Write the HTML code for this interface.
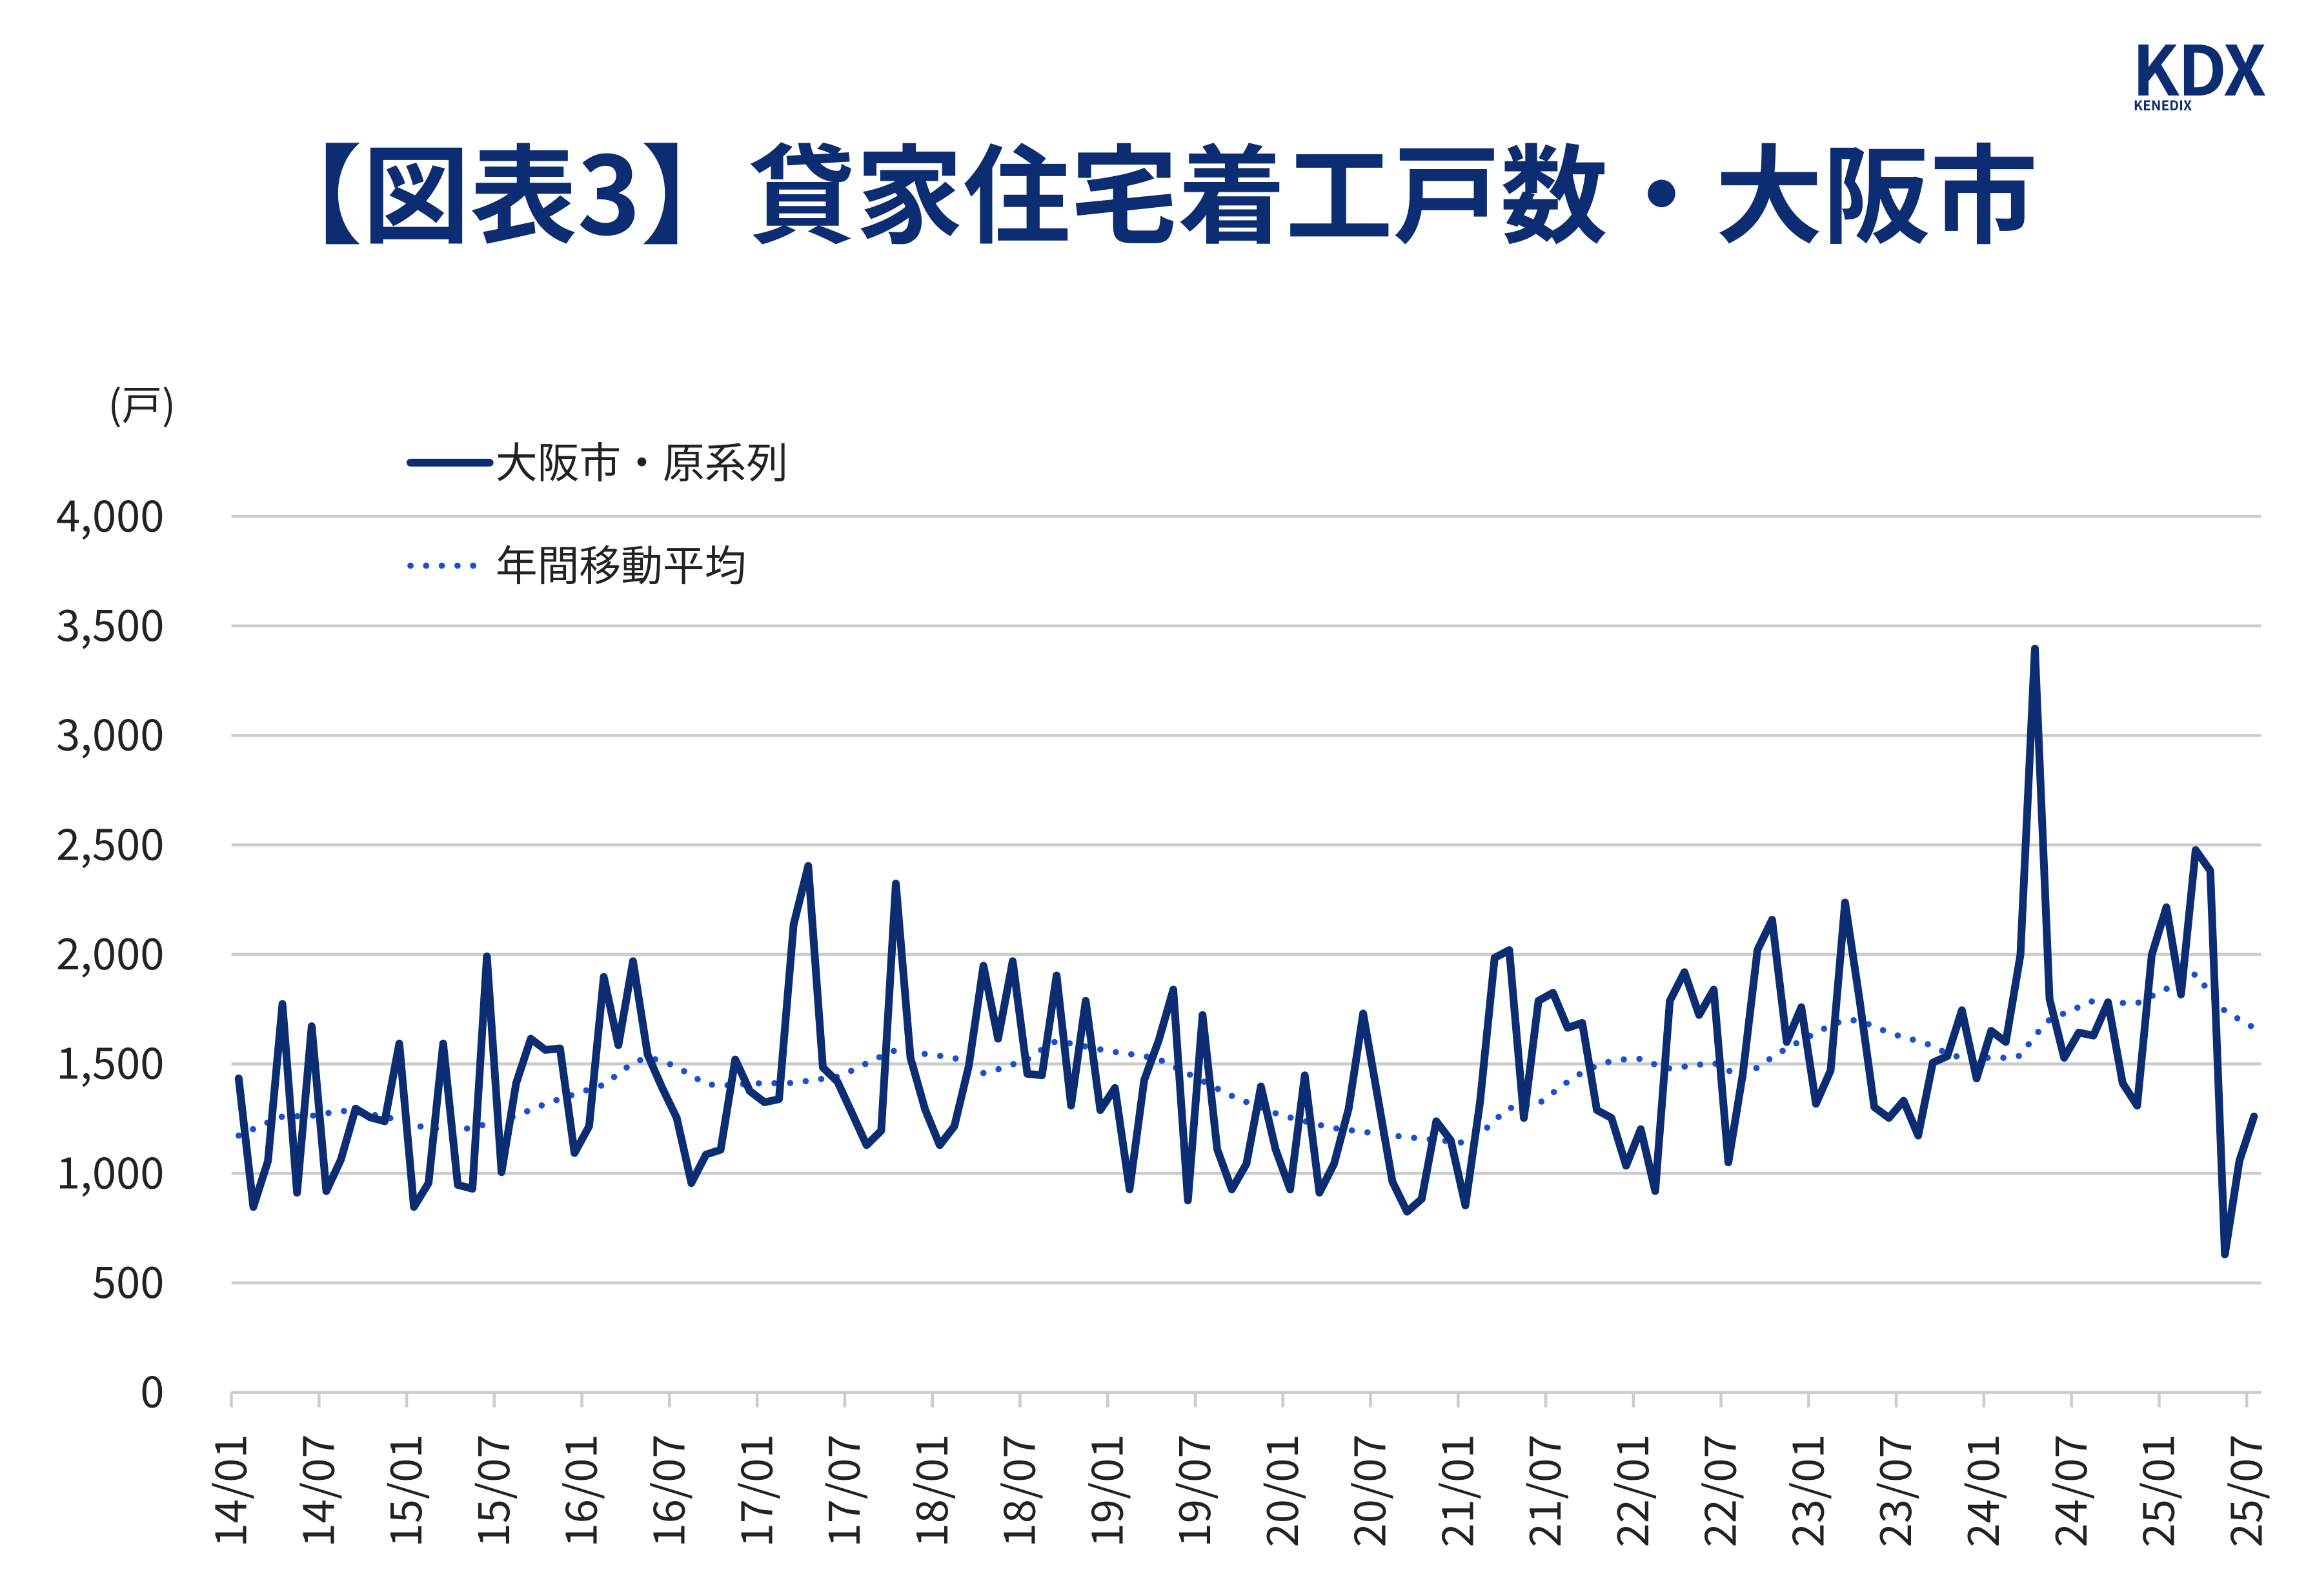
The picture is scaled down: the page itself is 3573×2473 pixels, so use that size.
<!DOCTYPE html>
<html><head><meta charset="utf-8">
<style>
html,body{margin:0;padding:0;background:#fff;}
svg{display:block;}
text{font-family:"Noto Sans CJK JP","Liberation Sans",sans-serif;}
</style></head>
<body>
<svg id="s" xmlns="http://www.w3.org/2000/svg" width="3573" height="2473" viewBox="0 0 1545 1069.4">
<rect width="1545" height="1069.4" fill="#fff"/>
<text x="1473" y="64" text-anchor="middle" font-size="46" font-weight="bold" fill="#0d2d73" letter-spacing="-1" font-family="Liberation Sans,sans-serif">KDX</text>
<text x="1449" y="74" text-anchor="middle" font-size="9" font-weight="bold" fill="#0d2d73" font-family="Liberation Sans,sans-serif">KENEDIX</text>
<text x="768" y="157" text-anchor="middle" font-size="72" font-weight="bold" fill="#0d2d73">【図表3】貸家住宅着工戸数・大阪市</text>
<text x="95" y="281" text-anchor="middle" font-size="27" fill="#222">(戸)</text>
<g id="grid"></g>
<g id="ylab" font-size="29" fill="#222" text-anchor="end"></g>
<g id="xlab" font-size="29" fill="#222"></g>
<path id="ma" fill="none" stroke="#1a4fd0" stroke-width="4.2" stroke-linecap="round" stroke-dasharray="0 10.5"/>
<path id="raw" fill="none" stroke="#0d2d73" stroke-width="5.2" stroke-linejoin="round" stroke-linecap="round"/>
<line x1="275" y1="310" x2="328" y2="310" stroke="#0d2d73" stroke-width="5.2" stroke-linecap="round"/>
<text x="332" y="320" font-size="28" fill="#222">大阪市・原系列</text>
<line x1="275" y1="379" x2="322" y2="379" stroke="#1a4fd0" stroke-width="4.2" stroke-linecap="round" stroke-dasharray="0 10.5"/>
<text x="332" y="389" font-size="28" fill="#222">年間移動平均</text>
</svg>
<script>
var NS="http://www.w3.org/2000/svg";
function Y(v){return 933-v*587/4000;}
var cw=9.785,x0=155;
function X(i){return x0+cw*(i+0.5);}
var g=document.getElementById('grid'),yl=document.getElementById('ylab'),xl=document.getElementById('xlab');
function el(t,a,p){var e=document.createElementNS(NS,t);for(var k in a)e.setAttribute(k,a[k]);p.appendChild(e);return e;}
for(var v=0;v<=4000;v+=500){
  var y=Y(v);
  el('line',{x1:155,x2:1515,y1:y,y2:y,stroke:'#cccccc','stroke-width':2},g);
  var t=el('text',{x:110,y:y+10},yl);t.textContent=v.toLocaleString('en-US');
}
for(var k=0;k<=138;k+=6){
  var x=x0+cw*k;
  el('line',{x1:x,x2:x,y1:933,y2:943,stroke:'#cccccc','stroke-width':2},g);
  var yr=14+Math.floor(k/12),m=(k%12==0)?'01':'07';
  var t=el('text',{x:0,y:0,'text-anchor':'end',transform:'translate('+(x+10)+',961) rotate(-90)'},xl);
  t.textContent=yr+'/'+m;
}
var raw=[1434,847,1057,1774,912,1672,919,1064,1296,1256,1238,1593,847,956,1593,948,930,1991,1006,1412,1615,1564,1571,1093,1216,1897,1586,1969,1542,1390,1253,956,1086,1108,1520,1376,1325,1339,2136,2404,1484,1419,1274,1129,1195,2324,1528,1292,1129,1216,1491,1948,1615,1969,1455,1448,1904,1310,1788,1289,1390,927,1426,1607,1839,876,1723,1111,927,1043,1397,1111,927,1448,912,1043,1296,1730,1347,963,825,883,1238,1151,854,1325,1984,2020,1253,1788,1825,1665,1687,1289,1253,1035,1202,919,1788,1919,1723,1839,1050,1455,2020,2158,1600,1759,1318,1470,2237,1788,1303,1253,1332,1173,1506,1535,1745,1434,1651,1600,1998,3396,1796,1528,1643,1629,1781,1412,1310,1998,2215,1817,2476,2382,630,1057,1260];
var d='';for(var i=0;i<raw.length;i++)d+=(i?'L':'M')+X(i).toFixed(1)+' '+Y(raw[i]).toFixed(1);
document.getElementById('raw').setAttribute('d',d);
var ma=[[0,1173],[2.9,1260],[5,1263],[7.3,1289],[10.3,1256],[12.3,1213],[15,1195],[18.3,1245],[21.3,1325],[25,1405],[27.6,1535],[29.5,1506],[32.3,1397],[35.5,1412],[37.9,1412],[41.2,1444],[44.9,1564],[49,1528],[51.1,1455],[54,1520],[55.9,1607],[59.7,1557],[62.8,1528],[64.8,1462],[68.2,1347],[71.3,1267],[74.7,1209],[79.9,1166],[84.4,1137],[86.8,1296],[89,1318],[91.6,1448],[93.6,1510],[95.8,1528],[97.8,1477],[101.1,1506],[102.9,1434],[105.6,1557],[109.5,1694],[110.6,1709],[113.5,1629],[115.7,1593],[117.5,1528],[121.9,1528],[123.7,1694],[127,1788],[129.9,1774],[133,1875],[133.9,1919],[135.9,1745],[138,1665]];
function mv(i){for(var j=0;j<ma.length-1;j++){if(i<=ma[j+1][0]){var a=ma[j],b=ma[j+1];return a[1]+(b[1]-a[1])*(i-a[0])/(b[0]-a[0]);}}return ma[ma.length-1][1];}
var d2='';for(var i=0;i<=138;i++)d2+=(i?'L':'M')+X(i).toFixed(1)+' '+Y(mv(i)).toFixed(1);
document.getElementById('ma').setAttribute('d',d2);
</script>
</body></html>
